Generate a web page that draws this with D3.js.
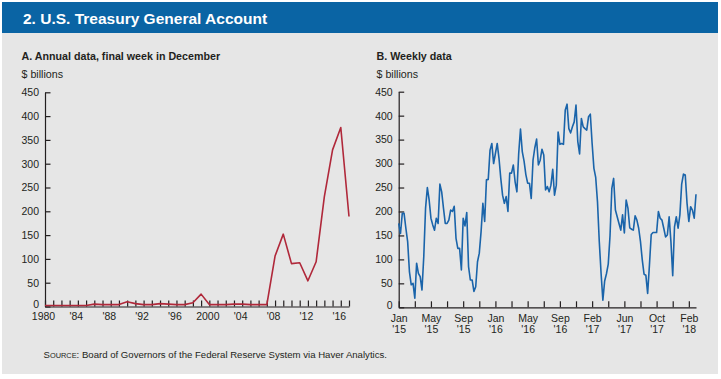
<!DOCTYPE html>
<html>
<head>
<meta charset="utf-8">
<script src="https://cdnjs.cloudflare.com/ajax/libs/d3/7.8.5/d3.min.js"></script>
<style>
body { margin: 0; background: #ffffff; }
svg text { font-family: "Liberation Sans", Arial, Helvetica, sans-serif; fill: #231f20; }
</style>
</head>
<body>
<svg id="chart" width="721" height="379"></svg>
<script>
// Panel A - annual data, final week in December ($ billions)
var annualYears = [1980, 1981, 1982, 1983, 1984, 1985, 1986, 1987, 1988, 1989,
                   1990, 1991, 1992, 1993, 1994, 1995, 1996, 1997, 1998, 1999,
                   2000, 2001, 2002, 2003, 2004, 2005, 2006, 2007, 2008, 2009,
                   2010, 2011, 2012, 2013, 2014, 2015, 2016, 2017];
var annualValues = [2, 2, 2, 2, 2, 2, 5, 4, 4, 4,
                    10, 6, 4, 4, 6, 5, 4, 4, 8, 26,
                    4, 4, 4, 5, 5, 4, 4, 4, 106, 152,
                    90, 92, 54, 94, 231, 329, 376, 189];
var annualTickLabels = {1980: "1980", 1984: "'84", 1988: "'88", 1992: "'92", 1996: "'96",
                        2000: "2000", 2004: "'04", 2008: "'08", 2012: "'12", 2016: "'16"};

// Panel B - weekly data starting first Wednesday of 2015 ($ billions)
var weeklyStart = new Date(2015, 0, 7);
var weeklyValues = [175, 154, 196, 196, 165, 137, 74, 47, 50, 19,
                    92, 71, 64, 36, 106, 207, 250, 224, 186, 172,
                    161, 186, 175, 257, 241, 207, 175, 175, 182, 203,
                    200, 211, 144, 123, 123, 78, 186, 170, 198, 85,
                    57, 57, 33, 43, 95, 113, 158, 217, 179, 266,
                    267, 328, 342, 300, 321, 342, 311, 269, 234, 217,
                    231, 200, 280, 280, 297, 262, 241, 321, 372, 325,
                    305, 277, 259, 259, 227, 307, 333, 351, 297, 307,
                    330, 318, 245, 252, 241, 255, 288, 234, 255, 366,
                    340, 342, 340, 412, 424, 373, 364, 377, 387, 422,
                    346, 320, 394, 377, 373, 370, 398, 403, 342, 290,
                    271, 220, 137, 71, 15, 55, 70, 90, 150, 248,
                    269, 203, 189, 175, 161, 193, 155, 224, 207, 166,
                    163, 161, 191, 182, 165, 137, 99, 69, 67, 29,
                    88, 152, 156, 156, 156, 200, 186, 182, 165, 147,
                    151, 189, 137, 66, 168, 189, 165, 193, 257, 278,
                    276, 217, 179, 210, 203, 186, 236];
var weeklyTickLabels = [["Jan", "'15"], null, ["May", "'15"], null, ["Sep", "'15"], null,
                        ["Jan", "'16"], null, ["May", "'16"], null, ["Sep", "'16"], null,
                        ["Feb", "'17"], null, ["Jun", "'17"], null, ["Oct", "'17"], null,
                        ["Feb", "'18"]];
var yTicks = [0, 50, 100, 150, 200, 250, 300, 350, 400, 450];

var svg = d3.select('#chart');

// background and title bar
svg.append('rect')
   .attr('x', 2).attr('y', 2).attr('width', 716).attr('height', 372)
   .attr('fill', '#e6e6e6');
svg.append('rect')
   .attr('x', 2).attr('y', 2).attr('width', 716).attr('height', 31)
   .attr('fill', '#0a64a4');
svg.append('text')
   .attr('x', 23).attr('y', 24)
   .style('font-size', '15.5px')
   .style('font-weight', 'bold')
   .style('fill', '#ffffff')
   .text('2. U.S. Treasury General Account');

function panelTitles(x, title) {
    svg.append('text')
       .attr('x', x).attr('y', 60)
       .style('font-size', '10.7px')
       .style('font-weight', 'bold')
       .text(title);
    svg.append('text')
       .attr('x', x).attr('y', 77.5)
       .style('font-size', '10.7px')
       .text('$ billions');
}

function styleAxis(g) {
    g.selectAll('path, line').attr('stroke', '#231f20').attr('stroke-width', 1.2);
    g.selectAll('text').style('font-size', '10.5px').attr('fill', '#231f20');
}

// zero label sits a little above the axis line
function liftZero(g) {
    g.selectAll('.tick text').filter(function(d) { return d === 0; }).attr('y', -2.5);
}

// ---- Panel A ----
panelTitles(21.5, 'A. Annual data, final week in December');

var xA = d3.scaleLinear().domain([1980, 2017]).range([45, 349]);
var yA = d3.scaleLinear().domain([0, 450]).range([306.5, 92.3]);

svg.append('g')
   .attr('transform', 'translate(45,0)')
   .call(d3.axisLeft(yA).tickValues(yTicks).tickSize(-5.5).tickSizeOuter(0).tickPadding(6))
   .call(styleAxis)
   .call(liftZero);

svg.append('g')
   .attr('transform', 'translate(0,306.5)')
   .call(d3.axisBottom(xA).tickValues(annualYears).tickSize(-6).tickSizeOuter(0).tickPadding(6)
           .tickFormat(function(d) { return annualTickLabels[d] || ''; }))
   .call(styleAxis)
   .selectAll('text').attr('dx', '-2');

svg.append('path')
   .datum(annualValues)
   .attr('fill', 'none')
   .attr('stroke', '#b0283a')
   .attr('stroke-width', 1.6)
   .attr('stroke-linejoin', 'round')
   .attr('d', d3.line()
                .x(function(d, i) { return xA(annualYears[i]); })
                .y(function(d) { return yA(d); }));

// ---- Panel B ----
panelTitles(376.5, 'B. Weekly data');

var weekDates = weeklyValues.map(function(d, i) { return d3.timeWeek.offset(weeklyStart, i); });
var xB = d3.scaleTime().domain([weekDates[0], weekDates[weekDates.length - 1]]).range([398.7, 696]);
var yB = d3.scaleLinear().domain([0, 450]).range([307.3, 91.7]);

svg.append('g')
   .attr('transform', 'translate(398.7,0)')
   .call(d3.axisLeft(yB).tickValues(yTicks).tickSize(-5.5).tickSizeOuter(0).tickPadding(6))
   .call(styleAxis)
   .call(liftZero);

var tickDates = weeklyTickLabels.map(function(d, i) { return d3.timeWeek.offset(weeklyStart, i * 9); });
var xAxisB = svg.append('g')
   .attr('transform', 'translate(0,307.3)')
   .call(d3.axisBottom(xB).tickValues(tickDates).tickSize(-6).tickSizeOuter(0).tickPadding(5.5)
           .tickFormat(''))
   .call(styleAxis);

xAxisB.selectAll('.tick text').each(function(d, i) {
    var lab = weeklyTickLabels[i];
    if (!lab) return;
    var t = d3.select(this).attr('dy', null).attr('y', 14.5);
    t.append('tspan').attr('x', 0).text(lab[0]);
    t.append('tspan').attr('x', 0).attr('dy', 11.5).text(lab[1]);
});

svg.append('path')
   .datum(weeklyValues)
   .attr('fill', 'none')
   .attr('stroke', '#1a64aa')
   .attr('stroke-width', 1.6)
   .attr('stroke-linejoin', 'round')
   .attr('d', d3.line()
                .x(function(d, i) { return xB(weekDates[i]); })
                .y(function(d) { return yB(d); }));

// source note
var src = svg.append('text')
   .attr('x', 43.5).attr('y', 358)
   .style('font-size', '9.6px');
src.append('tspan').text('S');
src.append('tspan').style('font-size', '7.4px').text('OURCE');
src.append('tspan').text(': Board of Governors of the Federal Reserve System via Haver Analytics.');
</script>
</body>
</html>
